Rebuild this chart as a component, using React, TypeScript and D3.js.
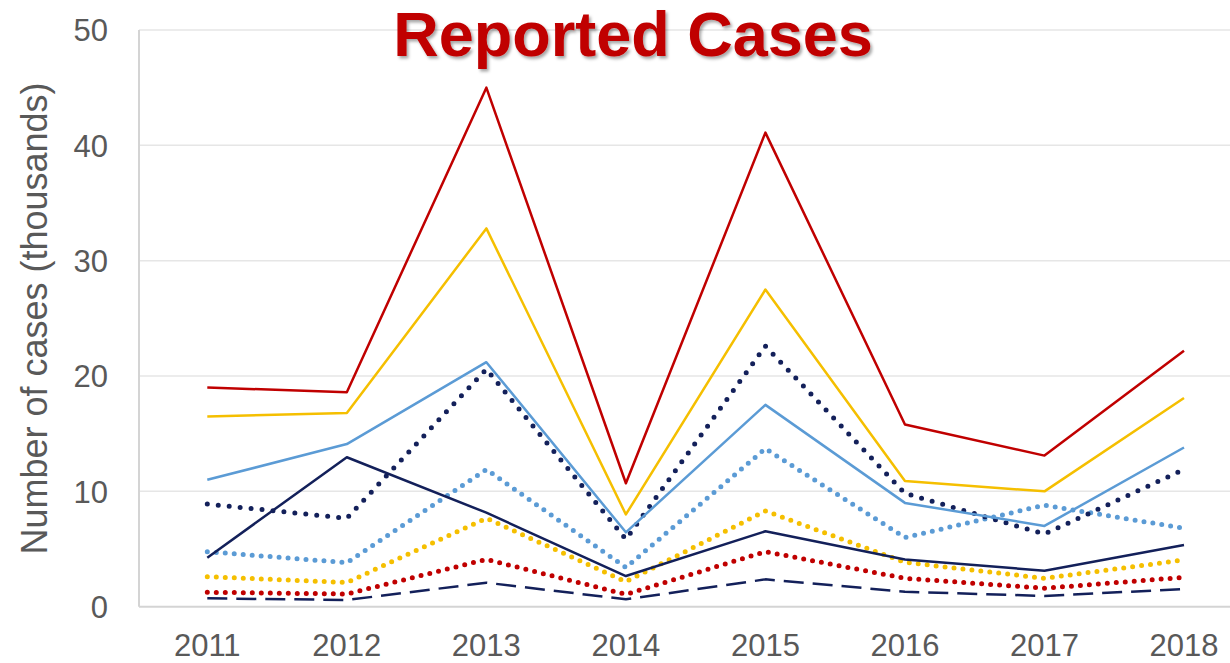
import {useEffect, useRef} from "react";
import * as d3 from "d3";

const years = ["2011", "2012", "2013", "2014", "2015", "2016", "2017", "2018"]
const yTicks = [0, 10, 20, 30, 40, 50]

const redSolid = [19.0, 18.6, 45.0, 10.7, 41.1, 15.8, 13.1, 22.2]
const yellowSolid = [16.5, 16.8, 32.8, 8.0, 27.5, 10.9, 10.0, 18.1]
const blueSolid = [11.0, 14.1, 21.2, 6.45, 17.5, 9.0, 7.0, 13.8]
const navyDotted = [8.9, 7.67, 20.6, 5.85, 22.6, 9.83, 6.3, 11.9]
const navySolid = [4.25, 12.96, 8.15, 2.66, 6.54, 4.1, 3.12, 5.35]
const blueDotted = [4.77, 3.82, 11.9, 3.4, 13.7, 6.0, 8.8, 6.8]
const yellowDotted = [2.6, 2.1, 7.67, 2.17, 8.3, 3.85, 2.46, 4.05]
const redDotted = [1.25, 1.1, 4.1, 1.07, 4.77, 2.46, 1.6, 2.55]
const navyDashed = [0.73, 0.58, 2.08, 0.64, 2.37, 1.3, 0.93, 1.53]

const red = "#C00000"
const yellow = "#F5BF00"
const blue = "#5B9BD5"
const navy = "#13205A"

// drawn bottom-up in the same order the original stacks them
const series = [
  {values: navyDashed, color: navy, dash: "20 9", width: 2.5},
  {values: redDotted, color: red, dash: "0 9", width: 5},
  {values: yellowDotted, color: yellow, dash: "0 9", width: 5},
  {values: blueDotted, color: blue, dash: "0 9", width: 5},
  {values: navySolid, color: navy, dash: null, width: 2.5},
  {values: navyDotted, color: navy, dash: "0 11", width: 5},
  {values: blueSolid, color: blue, dash: null, width: 2.5},
  {values: yellowSolid, color: yellow, dash: null, width: 2.5},
  {values: redSolid, color: red, dash: null, width: 2.5},
]

export default function App() {
  const ref = useRef<SVGSVGElement>(null)

  useEffect(() => {
    const svg = d3.select(ref.current)
    svg.selectAll("*").remove()

    const width = 1230
    const height = 663
    const left = 139

    const x = d3.scalePoint().domain(years).range([207.3, 1184])
    const y = d3.scaleLinear().domain([0, 50]).range([606.7, 30])

    const defs = svg.append("defs")
    defs.append("filter")
    .attr("id", "shadow")
    .attr("x", "-10%").attr("y", "-20%")
    .attr("width", "120%").attr("height", "150%")
    .append("feDropShadow")
    .attr("dx", 2).attr("dy", 2.5)
    .attr("stdDeviation", 1.5)
    .attr("flood-color", "#000")
    .attr("flood-opacity", 0.35)

    // gridlines
    svg.append("g")
    .selectAll("line")
    .data(yTicks.filter(t => t > 0))
    .join("line")
    .attr("x1", left)
    .attr("x2", width)
    .attr("y1", d => y(d))
    .attr("y2", d => y(d))
    .attr("stroke", "#e6e6e6")
    .attr("stroke-width", 1.5)

    // axis lines
    svg.append("line")
    .attr("x1", left).attr("x2", left)
    .attr("y1", y(50)).attr("y2", y(0))
    .attr("stroke", "#d4d4d4").attr("stroke-width", 2)
    svg.append("line")
    .attr("x1", left).attr("x2", width)
    .attr("y1", y(0)).attr("y2", y(0))
    .attr("stroke", "#d4d4d4").attr("stroke-width", 2)

    // y tick labels
    svg.append("g")
    .selectAll("text")
    .data(yTicks)
    .join("text")
    .attr("x", 108)
    .attr("y", d => y(d))
    .attr("dy", "0.36em")
    .attr("text-anchor", "end")
    .attr("font-family", "Liberation Sans, Arial, sans-serif")
    .attr("font-size", 31)
    .attr("fill", "#595959")
    .text(d => d)

    // x tick labels
    svg.append("g")
    .selectAll("text")
    .data(years)
    .join("text")
    .attr("x", d => x(d)!)
    .attr("y", 656)
    .attr("text-anchor", "middle")
    .attr("font-family", "Liberation Sans, Arial, sans-serif")
    .attr("font-size", 31)
    .attr("fill", "#595959")
    .text(d => d)

    // y axis title
    svg.append("text")
    .attr("transform", `translate(47, ${(80 + 557) / 2}) rotate(-90)`)
    .attr("text-anchor", "middle")
    .attr("font-family", "Liberation Sans, Arial, sans-serif")
    .attr("font-size", 36)
    .attr("fill", "#595959")
    .text("Number of cases (thousands)")

    const line = d3.line<number>()
    .x((_, i) => x(years[i])!)
    .y(d => y(d))

    series.forEach(s => {
      const path = svg.append("path")
      .datum(s.values)
      .attr("fill", "none")
      .attr("stroke", s.color)
      .attr("stroke-width", s.width)
      .attr("stroke-linejoin", "round")
      .attr("d", line)
      if (s.dash) {
        path.attr("stroke-dasharray", s.dash)
        .attr("stroke-linecap", s.dash.startsWith("0") ? "round" : "butt")
      }
    })

    svg.append("text")
    .attr("x", 633)
    .attr("y", 56)
    .attr("text-anchor", "middle")
    .attr("font-family", "Liberation Sans, Arial, sans-serif")
    .attr("font-weight", "bold")
    .attr("font-size", 63)
    .attr("fill", red)
    .attr("filter", "url(#shadow)")
    .text("Reported Cases")

    svg.attr("width", width).attr("height", height)
  }, [])

  return <svg ref={ref} width={1230} height={663}
              style={{position: "absolute", left: 0, top: 0, background: "#fff"}}/>
}
